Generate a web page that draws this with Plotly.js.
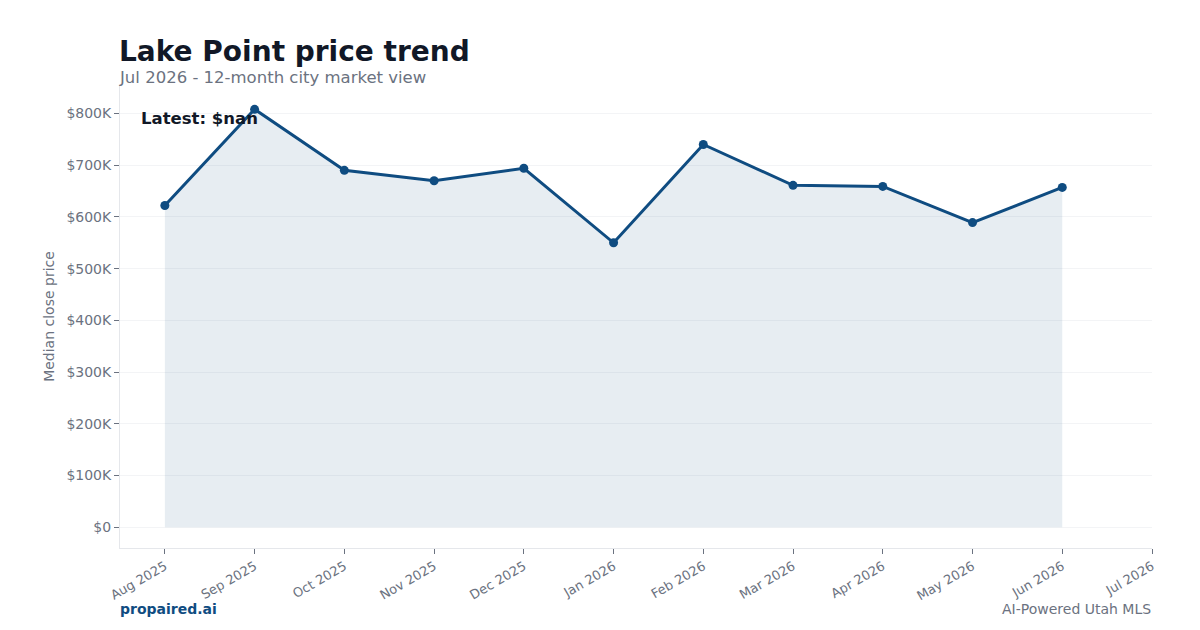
<!DOCTYPE html>
<html>
<head>
<meta charset="utf-8">
<script src="https://cdn.plot.ly/plotly-3.0.1.min.js"></script>
<style>html,body{margin:0;padding:0;background:#fff;}#chart{width:1200px;height:630px;}</style>
</head>
<body>
<div id="chart"></div>
<script>
const months = ["Aug 2025","Sep 2025","Oct 2025","Nov 2025","Dec 2025","Jan 2026","Feb 2026","Mar 2026","Apr 2026","May 2026","Jun 2026","Jul 2026"];
const medianPrice = [622000, 808000, 690000, 670000, 694000, 550000, 740000, 661000, 659000, 589000, 657000, null];
const yTickVals = [0,100000,200000,300000,400000,500000,600000,700000,800000];
const yTickText = ["$0","$100K","$200K","$300K","$400K","$500K","$600K","$700K","$800K"];

const font = "DejaVu Sans, Verdana, sans-serif";
const traces = [
  {
    x: months, y: medianPrice, type: "scatter", mode: "lines",
    fill: "tozeroy", fillcolor: "rgba(15,76,129,0.1)",
    line: {color: "rgba(15,76,129,0.12)", width: 1},
    hoverinfo: "skip", showlegend: false
  },
  {
    x: months, y: medianPrice, type: "scatter", mode: "lines+markers",
    line: {color: "#0f4c81", width: 3},
    marker: {color: "#0f4c81", size: 9},
    showlegend: false
  }
];
const layout = {
  width: 1200, height: 630,
  paper_bgcolor: "#ffffff", plot_bgcolor: "#ffffff",
  margin: {l: 120, r: 48, t: 85, b: 82},
  font: {family: font, color: "#6b7280"},
  xaxis: {
    type: "category", categoryorder: "array", categoryarray: months,
    range: [-0.5, 11],
    tickangle: -30, tickfont: {size: 13, color: "#6b7280"},
    showgrid: false, showline: true, linecolor: "#e5e7eb", linewidth: 1,
    ticks: "outside", ticklen: 5, tickcolor: "#6b7280", zeroline: false
  },
  yaxis: {
    range: [-40000, 855000],
    tickvals: yTickVals, ticktext: yTickText,
    tickfont: {size: 14, color: "#6b7280"},
    showgrid: true, gridcolor: "#f3f4f6", gridwidth: 1,
    showline: true, linecolor: "#e5e7eb", linewidth: 1,
    ticks: "outside", ticklen: 5, tickcolor: "#6b7280", zeroline: false,
    title: {text: "Median close price", font: {size: 14, color: "#6b7280"}, standoff: 8}
  },
  annotations: [
    {xref: "paper", yref: "paper", x: 0, xshift: -3, y: 1.073, xanchor: "left", yanchor: "middle", showarrow: false,
     text: "<b>Lake Point price trend</b>", font: {family: font, size: 28, color: "#111827"}},
    {xref: "paper", yref: "paper", x: 0, xshift: -3, y: 1.017, xanchor: "left", yanchor: "middle", showarrow: false,
     text: "Jul 2026 - 12-month city market view", font: {family: font, size: 16.5, color: "#6b7280"}},
    {xref: "paper", yref: "paper", x: 0.02, xshift: -2, y: 0.9266, xanchor: "left", yanchor: "middle", showarrow: false,
     text: "<b>Latest: $nan</b>", font: {family: font, size: 16.5, color: "#111827"}},
    {xref: "paper", yref: "paper", x: 0, xshift: -2, y: -0.132, xanchor: "left", yanchor: "middle", showarrow: false,
     text: "<b>propaired.ai</b>", font: {family: font, size: 14, color: "#0f4c81"}},
    {xref: "paper", yref: "paper", x: 1, xshift: 1, y: -0.132, xanchor: "right", yanchor: "middle", showarrow: false,
     text: "AI-Powered Utah MLS", font: {family: font, size: 14, color: "#6b7280"}}
  ]
};
Plotly.newPlot("chart", traces, layout, {displayModeBar: false, staticPlot: true});
</script>
</body>
</html>
